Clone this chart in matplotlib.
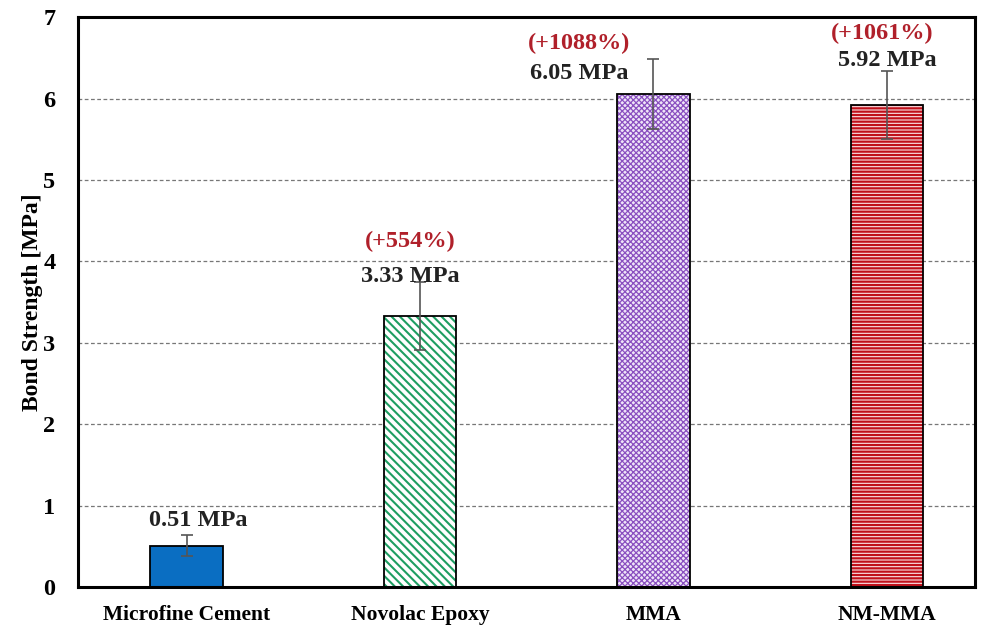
import numpy as np
import matplotlib.pyplot as plt

categories = ["Microfine Cement", "Novolac Epoxy", "MMA", "NM-MMA"]
strength = [0.51, 3.33, 6.05, 5.92]
errors = [0.13, 0.42, 0.43, 0.42]
value_labels = ["0.51 MPa", "3.33 MPa", "6.05 MPa", "5.92 MPa"]
pct_labels = ["", "(+554%)", "(+1088%)", "(+1061%)"]

face = ["#0A6EC2", "white", "#EEE4F8", "#FBE3E6"]
hatch_col = ["#0A6EC2", "#1E9E62", "#8A4FC0", "#C0101A"]
hatches = [None, "\\\\\\\\", "xxxxxx", "-----"]
hatch_lw = [1.5, 1.5, 0.9, 1.6]

plt.rcParams['font.family'] = ['Liberation Serif', 'DejaVu Serif']

fig = plt.figure(figsize=(9.95, 6.32), dpi=100)
ax = fig.add_axes([0.078, 0.071, 0.902, 0.902])

x = np.arange(len(categories))
w = 0.31
for i in range(len(x)):
    plt.rcParams['hatch.linewidth'] = hatch_lw[i]
    ax.bar(x[i], strength[i], w, color=face[i], edgecolor=hatch_col[i],
           hatch=hatches[i], linewidth=0, zorder=2)
    ax.bar(x[i], strength[i], w, color="none", edgecolor="black",
           linewidth=1.3, zorder=3)
ax.errorbar(x, strength, yerr=errors, fmt="none", ecolor="#555555",
            elinewidth=1.2, capsize=4, capthick=1.2, zorder=4)

# label positions (offset from bar centre, height)
lab_dx = [0.05, -0.04, -0.32, 0.0]
lab_y = [0.82, 3.81, 6.31, 6.47]
pct_y = [0, 4.25, 6.68, 6.8]
pct_dx = [0, -0.04, -0.32, -0.02]
for i in range(len(x)):
    ax.text(x[i] + lab_dx[i], lab_y[i], value_labels[i], ha="center", va="center",
            fontsize=17.5, fontweight="bold", color="#222222", zorder=5)
    if pct_labels[i]:
        ax.text(x[i] + pct_dx[i], pct_y[i], pct_labels[i], ha="center", va="center",
                fontsize=17.5, fontweight="bold", color="#B0202A", zorder=5)

ax.set_xlim(-0.467, 3.378)
ax.set_ylim(0, 7)
ax.set_xticks(x)
ax.set_xticklabels(categories, fontsize=15.5, fontweight="bold")
ax.set_yticks(range(0, 8))
ax.set_yticklabels([str(v) for v in range(0, 8)], fontsize=17.5, fontweight="bold")
ax.tick_params(length=0, pad=16)
ax.tick_params(axis="x", pad=13)
ax.set_ylabel("Bond Strength [MPa]", fontsize=17, fontweight="bold", labelpad=0)
ax.yaxis.grid(True, linestyle=(0, (3, 2)), color="#777777", linewidth=0.9, zorder=0)
ax.set_axisbelow(True)
for s in ax.spines.values():
    s.set_linewidth(2.2)

fig.savefig("out.png", dpi=100)
